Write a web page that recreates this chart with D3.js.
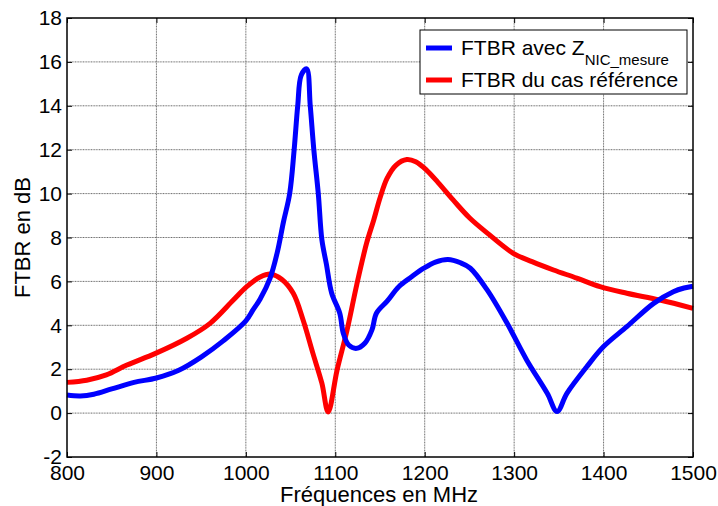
<!DOCTYPE html>
<html>
<head>
<meta charset="utf-8">
<script src="https://cdn.jsdelivr.net/npm/d3@7"></script>
<style>
  html, body { margin: 0; padding: 0; background: #fff; }
  svg { display: block; font-family: "Liberation Sans", Arial, sans-serif; }
</style>
</head>
<body>
<svg id="chart" width="718" height="506"></svg>
<script>
// ---- data ----
const xTicks = [800, 900, 1000, 1100, 1200, 1300, 1400, 1500];
const yTicks = [-2, 0, 2, 4, 6, 8, 10, 12, 14, 16, 18];

const freqBlue = [800, 815, 830, 850, 875, 900, 925, 950, 975, 1000, 1008, 1016, 1027, 1035, 1042, 1049, 1054, 1058, 1062, 1068, 1072, 1076, 1081, 1085, 1090, 1096, 1105, 1109, 1115, 1124, 1133, 1141, 1146, 1158, 1171, 1185, 1199, 1212, 1226, 1240, 1251, 1270, 1292, 1314, 1337, 1348, 1359, 1381, 1400, 1426, 1456, 1478, 1490, 1500];
const ftbrBlue = [0.82, 0.78, 0.86, 1.1, 1.4, 1.6, 1.95, 2.55, 3.3, 4.2, 4.7, 5.2, 6.14, 7.3, 8.7, 10.0, 12.0, 14.0, 15.4, 15.68, 14.0, 12.0, 10.0, 7.9, 6.8, 5.46, 4.55, 3.63, 3.1, 2.95, 3.18, 3.79, 4.55, 5.1, 5.76, 6.2, 6.6, 6.88, 7.0, 6.85, 6.6, 5.6, 4.1, 2.42, 0.9, 0.07, 0.9, 2.1, 3.03, 3.94, 5.0, 5.53, 5.7, 5.78];

const freqRed = [800, 822, 844, 867, 899, 934, 960, 986, 1001, 1016, 1028, 1040, 1053, 1064, 1075, 1085, 1092, 1102, 1113, 1124, 1135, 1143, 1150, 1158, 1168, 1180, 1190, 1202, 1215, 1232, 1250, 1270, 1299, 1320, 1344, 1370, 1396, 1426, 1463, 1500];
const ftbrRed = [1.4, 1.5, 1.74, 2.19, 2.72, 3.41, 4.09, 5.15, 5.76, 6.2, 6.33, 6.1, 5.46, 4.24, 2.72, 1.36, 0.05, 1.96, 3.75, 5.85, 7.74, 8.8, 9.8, 10.7, 11.3, 11.55, 11.45, 11.07, 10.5, 9.7, 8.9, 8.2, 7.28, 6.9, 6.52, 6.15, 5.76, 5.46, 5.15, 4.77];

const seriesNames = ["FTBR avec Z", "FTBR du cas référence"];
const subscript = "NIC_mesure";
const xLabel = "Fréquences en MHz";
const yLabel = "FTBR en dB";

// ---- layout ----
const svg = d3.select("#chart");
const L = 67, R = 693, T = 18, B = 457;
const x = d3.scaleLinear().domain([800, 1500]).range([L, R]);
const y = d3.scaleLinear().domain([-2, 18]).range([B, T]);
const fmt = d => String(d);

// grid
const grid = svg.append("g");
grid.selectAll("line.vx").data(xTicks.slice(1, -1)).enter().append("line")
  .attr("x1", d => x(d)).attr("x2", d => x(d)).attr("y1", T).attr("y2", B)
  .attr("stroke", "#6e6e6e").attr("stroke-width", 1).attr("stroke-dasharray", "1,0.6");
grid.selectAll("line.hy").data(yTicks.slice(1, -1)).enter().append("line")
  .attr("x1", L).attr("x2", R).attr("y1", d => y(d)).attr("y2", d => y(d))
  .attr("stroke", "#6e6e6e").attr("stroke-width", 1).attr("stroke-dasharray", "1,0.6");

// axes
const fs = 21;
const xAxis = d3.axisBottom(x).tickValues(xTicks).tickFormat(fmt).tickSizeInner(-5).tickSizeOuter(0).tickPadding(8);
const yAxis = d3.axisLeft(y).tickValues(yTicks).tickFormat(fmt).tickSizeInner(-5).tickSizeOuter(0).tickPadding(5);
const xTop = d3.axisTop(x).tickValues(xTicks).tickSizeInner(-5).tickSizeOuter(0).tickFormat("");
const yRight = d3.axisRight(y).tickValues(yTicks).tickSizeInner(-5).tickSizeOuter(0).tickFormat("");

function styleAxis(g) {
  g.select(".domain").remove();
  g.selectAll(".tick line").attr("stroke", "#000").attr("stroke-width", 1);
  g.selectAll("text").attr("fill", "#000").style("font-size", fs + "px")
   .style("font-family", "'Liberation Sans', Arial, sans-serif");
}
svg.append("g").attr("transform", `translate(0,${B})`).call(xAxis).call(styleAxis)
  .selectAll("text").attr("dy", "0.71em");
svg.append("g").attr("transform", `translate(${L},0)`).call(yAxis).call(styleAxis);
svg.append("g").attr("transform", `translate(0,${T})`).call(xTop).call(styleAxis);
svg.append("g").attr("transform", `translate(${R},0)`).call(yRight).call(styleAxis);

// lines
const line = d3.line().x(d => x(d[0])).y(d => y(d[1])).curve(d3.curveCatmullRom.alpha(0.5));
const blueData = freqBlue.map((f, i) => [f, ftbrBlue[i]]);
const redData = freqRed.map((f, i) => [f, ftbrRed[i]]);

svg.append("path").datum(redData).attr("d", line).attr("fill", "none")
  .attr("stroke", "#ff0000").attr("stroke-width", 5).attr("stroke-linejoin", "round");
svg.append("path").datum(blueData).attr("d", line).attr("fill", "none")
  .attr("stroke", "#0000ff").attr("stroke-width", 5).attr("stroke-linejoin", "round");

// box
svg.append("rect").attr("x", L).attr("y", T).attr("width", R - L).attr("height", B - T)
  .attr("fill", "none").attr("stroke", "#000").attr("stroke-width", 1.5);

// axis labels
svg.append("text").attr("x", (L + R) / 2 - 1).attr("y", 502).attr("text-anchor", "middle")
  .style("font-size", "22px").attr("fill", "#000").text(xLabel);
svg.append("text").attr("transform", `translate(30,${(T + B) / 2}) rotate(-90)`)
  .attr("text-anchor", "middle").style("font-size", "22px").attr("fill", "#000").text(yLabel);

// legend
const lg = svg.append("g");
lg.append("rect").attr("x", 420).attr("y", 30).attr("width", 267).attr("height", 64)
  .attr("fill", "#fff").attr("stroke", "#000").attr("stroke-width", 1);
const colors = ["#0000ff", "#ff0000"];
const ly = [48, 80];
seriesNames.forEach((name, i) => {
  lg.append("line").attr("x1", 426).attr("x2", 452).attr("y1", ly[i]).attr("y2", ly[i])
    .attr("stroke", colors[i]).attr("stroke-width", 5);
  const t = lg.append("text").attr("x", 461).attr("y", ly[i] + 7).style("font-size", fs + "px")
    .attr("fill", "#000").text(name);
  if (i === 0) {
    t.append("tspan").attr("dy", 10).style("font-size", "15px").text(subscript);
  }
});
</script>
</body>
</html>
